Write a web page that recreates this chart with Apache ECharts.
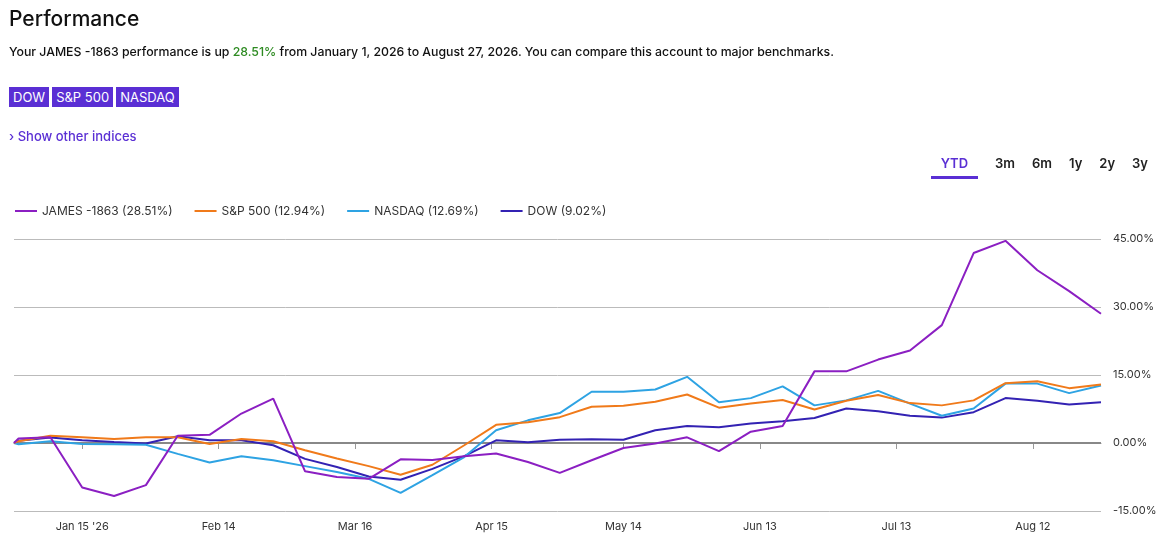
<!DOCTYPE html>
<html><head><meta charset="utf-8">
<script src="https://cdn.jsdelivr.net/npm/echarts@6/dist/echarts.min.js"></script>
<style>
body{margin:0;width:1168px;height:550px;font-family:Inter,"Noto Sans",sans-serif;color:#111;background:#fff;position:relative;overflow:hidden}
#chart{position:absolute;left:0;top:0;width:1168px;height:550px}
.o{position:absolute;z-index:2}
.btn{display:inline-block;background:#5a2fd4;color:#fff;font-size:13px;padding:2px 4px;margin-right:3px}
.tabs span{display:inline-block;font-size:13px;margin-left:17px;font-weight:600;color:#222}
</style></head><body>
<div id="chart"></div>
<div class="o" style="left:9px;top:6px;font-size:21px;font-weight:500">Performance</div>
<div class="o" style="left:9px;top:44px;font-size:12.3px;font-weight:500">Your JAMES -1863 performance is up <span style="color:#2e8b22">28.51%</span> from January 1, 2026 to August 27, 2026. You can compare this account to major benchmarks.</div>
<div class="o" style="left:9px;top:86px"><span class="btn">DOW</span><span class="btn">S&amp;P 500</span><span class="btn">NASDAQ</span></div>
<div class="o" style="left:9px;top:128px;font-size:13px;color:#5a2fd4;font-weight:500">› Show other indices</div>
<div class="o tabs" style="right:20px;top:152px"><span style="color:#5a2fd4;border-bottom:3px solid #5a2fd4;padding:0 10px 5px">YTD</span><span>3m</span><span>6m</span><span>1y</span><span>2y</span><span>3y</span></div>
<script>
const days=[-1,0,7,14,21,28,35,42,49,56,63,70,77,84,91,98,105,112,119,126,133,140,147,154,161,168,175,182,189,196,203,210,217,224,231,238];
const james=[0,1.0,1.25,-9.8,-11.7,-9.3,1.6,1.8,6.5,9.8,-6.25,-7.5,-7.9,-3.6,-3.75,-2.9,-2.3,-4.2,-6.6,-3.8,-1.1,-0.1,1.25,-1.8,2.5,3.75,15.8,15.8,18.4,20.4,26,41.9,44.6,38.1,33.5,28.5];
const sp500=[0,0.4,1.6,1.25,0.9,1.25,1.25,-0.2,0.9,0.4,-1.6,-3.4,-5.1,-7.0,-4.8,-0.5,4.0,4.6,5.7,8.0,8.2,9.1,10.7,7.8,8.7,9.5,7.4,9.3,10.6,8.8,8.3,9.4,13.2,13.6,12.1,12.9];
const nasdaq=[0,-0.3,0.4,-0.2,-0.3,-0.4,-2.4,-4.3,-2.9,-3.8,-5.1,-6.4,-7.9,-11.0,-7.1,-3.1,2.8,5.0,6.6,11.3,11.3,11.8,14.6,9.0,9.9,12.5,8.3,9.4,11.5,8.7,6.0,7.6,13.1,13.1,11.0,12.7];
const dow=[0,0.5,1.2,0.6,0.2,-0.1,1.5,0.6,0.6,-0.5,-3.5,-5.3,-7.4,-8.1,-5.7,-2.9,0.6,0.15,0.7,0.8,0.7,2.8,3.75,3.5,4.3,4.8,5.5,7.6,7.0,6.0,5.6,6.8,9.9,9.3,8.5,9.0];
const tickDays=[14,44,74,104,133,163,193,223];
const tickLabels=["Jan 15 '26","Feb 14","Mar 16","Apr 15","May 14","Jun 13","Jul 13","Aug 12"];
const names=["JAMES -1863 (28.51%)","S&P 500 (12.94%)","NASDAQ (12.69%)","DOW (9.02%)"];
const colors=['#8b1fc2','#f07a1a','#2ea3e3','#3322b3'];
const vals=[james,sp500,nasdaq,dow];
const c=echarts.init(document.getElementById('chart'));
c.setOption({
 animation:false,color:colors,
 legend:{left:10,top:200,icon:'rect',itemWidth:22,itemHeight:2,itemGap:22,textStyle:{fontSize:12,color:'#333',fontFamily:'Inter'},data:names},
 grid:{left:14,right:67,top:239,bottom:39},
 xAxis:{type:'value',min:-1,max:238,splitLine:{show:false},
  axisLine:{lineStyle:{color:'#999'}},
  axisTick:{customValues:tickDays,length:6,lineStyle:{color:'#999'}},
  axisLabel:{customValues:tickDays,formatter:v=>tickLabels[tickDays.indexOf(v)]||'',color:'#333',fontSize:11,margin:10,fontFamily:'Inter'}},
 yAxis:{type:'value',position:'right',min:-15,max:45,interval:15,
  axisLabel:{formatter:v=>v.toFixed(2)+'%',color:'#333',fontSize:11,margin:12,fontFamily:'Inter'},
  splitLine:{lineStyle:{color:'#bbb',width:1}},axisLine:{show:false},axisTick:{show:false}},
 series:vals.map((v,i)=>({name:names[i],type:'line',symbol:'none',z:10-i,lineStyle:{width:2},
  data:days.map((d,j)=>[d,v[j]]),
  markLine:i==0?{silent:true,symbol:'none',label:{show:false},lineStyle:{color:'#888',width:2,type:'solid'},data:[{yAxis:0}]}:undefined}))
});
</script></body></html>
